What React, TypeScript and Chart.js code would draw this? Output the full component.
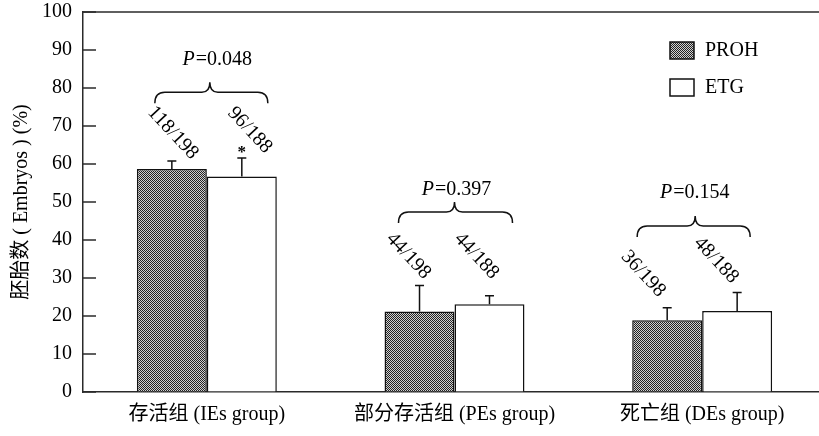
import React, { useEffect, useRef } from 'react';
import { Chart, registerables } from 'chart.js';

Chart.register(...registerables);

// ---- data ----
const categories = ['存活组 (IEs group)', '部分存活组 (PEs group)', '死亡组 (DEs group)'];
const seriesNames = ['PROH', 'ETG'];
const prohValues = [58.7, 21.2, 18.9];
const etgValues = [56.7, 23.1, 21.3];
const prohErrors = [2.1, 6.8, 3.3];
const etgErrors = [4.9, 2.2, 4.9];
const prohCounts = ['118/198', '44/198', '36/198'];
const etgCounts = ['96/188', '44/188', '48/188'];
const pValues = ['0.048', '0.397', '0.154'];
const significantEtg = [true, false, false];
const yMin = 0;
const yMax = 100;
const yStep = 10;
const yTitle = '胚胎数 ( Embryos ) (%)';

// ---- annotation layout (pixel offsets from group / bar centres, y in axis units) ----
const braceLayout = [
  { left: -52, right: 61, peak: 3, baseY: 76.0, pY: 87.4, pDx: 10 },
  { left: -56, right: 58, peak: 0, baseY: 44.5, pY: 53.2, pDx: 1.5 },
  { left: -65, right: 48, peak: -7, baseY: 40.8, pY: 52.4, pDx: -8 },
];
const countLayout = [
  [{ dx: 1, y: 68.2 }, { dx: 8, y: 68.9 }],
  [{ dx: -11, y: 35.8 }, { dx: -13, y: 35.8 }],
  [{ dx: -24, y: 31.1 }, { dx: -21, y: 34.7 }],
];

const SERIF = '"Liberation Serif", "Times New Roman", "Noto Sans CJK SC", serif';
const AXIS_COLOR = '#2a2a2a';

function makePattern(): CanvasPattern | string {
  const c = document.createElement('canvas');
  c.width = 2;
  c.height = 2;
  const g = c.getContext('2d');
  if (!g) return '#777';
  g.fillStyle = '#d0d0d0';
  g.fillRect(0, 0, 2, 2);
  g.fillStyle = '#222';
  g.fillRect(0, 0, 1, 1);
  g.fillRect(1, 1, 1, 1);
  const p = g.createPattern(c, 'repeat');
  return p || '#777';
}

const decorPlugin = {
  id: 'decor',
  afterDatasetsDraw(chart: any) {
    const { ctx, chartArea, scales } = chart;
    const xs = scales.x;
    const ys = scales.y;
    ctx.save();

    // top frame line
    ctx.strokeStyle = AXIS_COLOR;
    ctx.lineWidth = 1.5;
    ctx.beginPath();
    ctx.moveTo(chartArea.left, chartArea.top);
    ctx.lineTo(chartArea.right + 5, chartArea.top);
    ctx.stroke();

    // inner y tick marks
    ys.ticks.forEach((t: any) => {
      const y = ys.getPixelForValue(t.value);
      ctx.beginPath();
      ctx.moveTo(chartArea.left, y);
      ctx.lineTo(chartArea.left + 13, y);
      ctx.stroke();
    });

    // error bars
    const errs = [prohErrors, etgErrors];
    const vals = [prohValues, etgValues];
    ctx.strokeStyle = '#111';
    ctx.lineWidth = 1.5;
    [0, 1].forEach((di) => {
      const meta = chart.getDatasetMeta(di);
      meta.data.forEach((bar: any, i: number) => {
        const yTop = ys.getPixelForValue(vals[di][i] + errs[di][i]);
        const yBar = ys.getPixelForValue(vals[di][i]);
        ctx.beginPath();
        ctx.moveTo(bar.x, yBar);
        ctx.lineTo(bar.x, yTop);
        ctx.moveTo(bar.x - 4.5, yTop);
        ctx.lineTo(bar.x + 4.5, yTop);
        ctx.stroke();
        if (di === 1 && significantEtg[i]) {
          ctx.fillStyle = '#000';
          ctx.font = 'bold 17px ' + SERIF;
          ctx.textAlign = 'center';
          ctx.textBaseline = 'middle';
          ctx.fillText('*', bar.x, yTop - 5);
        }
      });
    });

    // count labels (rotated)
    ctx.fillStyle = '#000';
    ctx.font = '20px ' + SERIF;
    ctx.textAlign = 'center';
    ctx.textBaseline = 'middle';
    const counts = [prohCounts, etgCounts];
    [0, 1].forEach((di) => {
      const meta = chart.getDatasetMeta(di);
      meta.data.forEach((bar: any, i: number) => {
        const lay = countLayout[i][di];
        ctx.save();
        ctx.translate(bar.x + lay.dx, ys.getPixelForValue(lay.y));
        ctx.rotate((47 * Math.PI) / 180);
        ctx.fillText(counts[di][i], 0, 0);
        ctx.restore();
      });
    });

    // braces + P values
    ctx.strokeStyle = '#111';
    ctx.lineWidth = 1.5;
    categories.forEach((_, i) => {
      const cx = xs.getPixelForValue(i);
      const b = braceLayout[i];
      const x0 = cx + b.left;
      const x1 = cx + b.right;
      const xp = cx + b.peak;
      const yb = ys.getPixelForValue(b.baseY);
      const yl = yb - 11;
      const yk = yl - 10;
      ctx.beginPath();
      ctx.moveTo(x0, yb);
      ctx.quadraticCurveTo(x0, yl, x0 + 10, yl);
      ctx.lineTo(xp - 8, yl);
      ctx.quadraticCurveTo(xp, yl, xp, yk);
      ctx.quadraticCurveTo(xp, yl, xp + 8, yl);
      ctx.lineTo(x1 - 10, yl);
      ctx.quadraticCurveTo(x1, yl, x1, yb);
      ctx.stroke();

      const py = ys.getPixelForValue(b.pY);
      const px = cx + b.pDx;
      const italic = 'italic 20px ' + SERIF;
      const normal = '20px ' + SERIF;
      const rest = '=' + pValues[i];
      ctx.font = italic;
      const wP = ctx.measureText('P').width;
      ctx.font = normal;
      const wR = ctx.measureText(rest).width;
      const start = px - (wP + wR) / 2;
      ctx.textAlign = 'left';
      ctx.font = italic;
      ctx.fillText('P', start, py);
      ctx.font = normal;
      ctx.fillText(rest, start + wP + 1, py);
    });

    // legend
    const lx = chartArea.right - 156;
    const rows = [chartArea.top + 38, chartArea.top + 75];
    chart.data.datasets.forEach((ds: any, i: number) => {
      const cy = rows[i];
      ctx.fillStyle = ds.backgroundColor;
      ctx.fillRect(lx, cy - 8, 24, 17);
      ctx.strokeStyle = '#111';
      ctx.lineWidth = 1.5;
      ctx.strokeRect(lx, cy - 8, 24, 17);
      ctx.fillStyle = '#000';
      ctx.font = '20px ' + SERIF;
      ctx.textAlign = 'left';
      ctx.textBaseline = 'middle';
      ctx.fillText(ds.label, lx + 35, cy + 1);
    });

    ctx.restore();
  },
};

export default function App() {
  const ref = useRef<HTMLCanvasElement | null>(null);

  useEffect(() => {
    if (!ref.current) return;
    const pattern = makePattern();
    const chart = new Chart(ref.current, {
      type: 'bar',
      data: {
        labels: categories,
        datasets: [
          {
            label: seriesNames[0],
            data: prohValues,
            backgroundColor: pattern as any,
            borderColor: '#111',
            borderWidth: 1.5,
            categoryPercentage: 0.565,
            barPercentage: 1,
          },
          {
            label: seriesNames[1],
            data: etgValues,
            backgroundColor: '#ffffff',
            borderColor: '#111',
            borderWidth: 1.5,
            categoryPercentage: 0.565,
            barPercentage: 1,
          },
        ],
      },
      options: {
        responsive: false,
        animation: false,
        devicePixelRatio: 1,
        layout: { padding: { top: 12, right: 1, left: 0, bottom: 0 } },
        plugins: {
          legend: { display: false },
          tooltip: { enabled: false },
        },
        scales: {
          x: {
            type: 'category',
            grid: { display: true, drawOnChartArea: false, drawTicks: false },
            border: { display: true, color: AXIS_COLOR, width: 1.5 },
            ticks: {
              color: '#000',
              font: { family: SERIF, size: 20 },
              padding: 11,
              maxRotation: 0,
              autoSkip: false,
            },
            afterFit: (s: any) => {
              s.height = 44;
              s.paddingLeft = 0;
              s.paddingRight = 0;
            },
          },
          y: {
            min: yMin,
            max: yMax,
            grid: { display: true, drawOnChartArea: false, drawTicks: false },
            border: { display: true, color: AXIS_COLOR, width: 1.5 },
            ticks: {
              stepSize: yStep,
              color: '#000',
              font: { family: SERIF, size: 20 },
              padding: 11,
            },
            title: {
              display: true,
              text: yTitle,
              color: '#000',
              font: { family: SERIF, size: 20 },
              padding: { top: 10, bottom: 0 },
            },
            afterFit: (s: any) => {
              s.width = 83;
              s.paddingTop = 0;
              s.paddingBottom = 0;
            },
          },
        },
      },
      plugins: [decorPlugin],
    });
    return () => chart.destroy();
  }, []);

  return (
    <div
      style={{
        position: 'fixed',
        left: 0,
        top: 0,
        width: 819,
        height: 436,
        overflow: 'hidden',
        background: '#fff',
      }}
    >
      <canvas ref={ref} width={827} height={436} style={{ display: 'block' }} />
    </div>
  );
}
